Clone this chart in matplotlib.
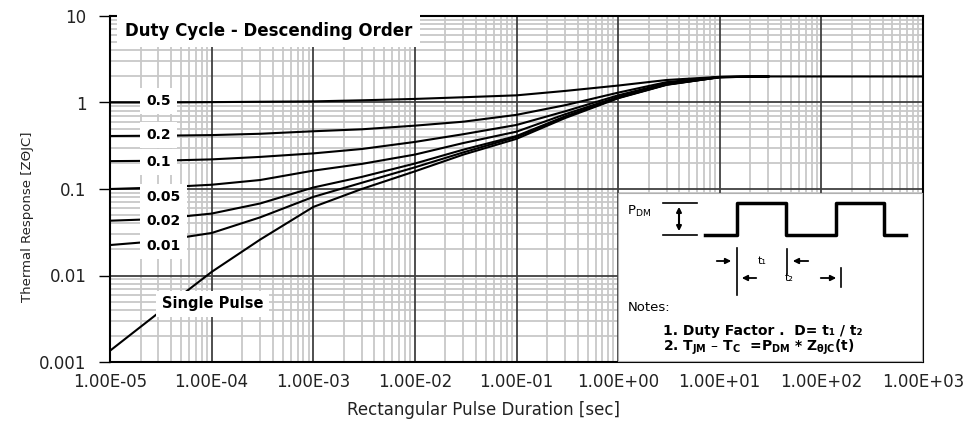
import matplotlib
matplotlib.use("Agg")
import matplotlib.pyplot as plt
from matplotlib.ticker import LogLocator, FuncFormatter, NullFormatter
import numpy as np

plt.rcParams['font.family'] = ['DejaVu Sans']

# pulse duration [s] and thermal response
t = [1e-5, 3e-5, 1e-4, 3e-4, 1e-3, 3e-3, 1e-2, 3e-2, 1e-1, 3e-1, 1, 3, 10, 30]
t_single = t + [100, 1000]

z_d50 = [1.0, 1.0, 1.01, 1.02, 1.03, 1.06, 1.10, 1.15, 1.21, 1.36, 1.57, 1.82, 1.98, 2.0]
z_d20 = [0.41, 0.413, 0.42, 0.435, 0.465, 0.49, 0.54, 0.60, 0.72, 0.93, 1.30, 1.72, 1.97, 2.0]
z_d10 = [0.21, 0.212, 0.22, 0.235, 0.258, 0.29, 0.35, 0.43, 0.55, 0.79, 1.21, 1.67, 1.97, 2.0]
z_d05 = [0.10, 0.104, 0.112, 0.127, 0.163, 0.195, 0.25, 0.34, 0.46, 0.73, 1.16, 1.64, 1.97, 2.0]
z_d02 = [0.043, 0.045, 0.052, 0.068, 0.104, 0.138, 0.197, 0.285, 0.41, 0.69, 1.14, 1.62, 1.96, 2.0]
z_d01 = [0.0225, 0.025, 0.031, 0.047, 0.081, 0.118, 0.178, 0.265, 0.40, 0.68, 1.13, 1.61, 1.96, 2.0]
z_single = [0.00135, 0.0037, 0.011, 0.026, 0.062, 0.10, 0.16, 0.25, 0.38, 0.66, 1.12, 1.60, 1.96, 2.0, 2.0, 2.0]

duty_labels = ["0.5", "0.2", "0.1", "0.05", "0.02", "0.01"]
label_y = [0.754, 0.656, 0.578, 0.477, 0.408, 0.335]

fig = plt.figure(figsize=(9.77, 4.23), dpi=100)
ax = fig.add_axes([110/977, 1-362/423, 813/977, 346/423])

for z in [z_d50, z_d20, z_d10, z_d05, z_d02, z_d01]:
    ax.plot(t, z, color='black', lw=1.5, zorder=3)
ax.plot(t_single, z_single, color='black', lw=1.5, zorder=3)

ax.set_xscale('log')
ax.set_yscale('log')
ax.set_xlim(1e-5, 1e3)
ax.set_ylim(1e-3, 10)

for a in (ax.xaxis, ax.yaxis):
    a.set_major_locator(LogLocator(base=10, numticks=20))
    a.set_minor_locator(LogLocator(base=10, subs=np.arange(2, 10), numticks=20))
    a.set_minor_formatter(NullFormatter())
ax.xaxis.set_major_formatter(FuncFormatter(lambda v, p: f"{v:.2E}"))
ax.yaxis.set_major_formatter(FuncFormatter(lambda v, p: f"{v:g}"))

# light minor grid, dark decade lines drawn on top of it
ax.grid(which='minor', color='#c8c8c8', lw=1.3)
ax.set_axisbelow(True)
for v in ax.get_xticks():
    if 1e-5 < v < 1e3:
        ax.axvline(v, color='#404040', lw=1.3, zorder=1)
for v in ax.get_yticks():
    if 1e-3 < v < 10:
        ax.axhline(v, color='#404040', lw=1.3, zorder=1)

for s in ax.spines.values():
    s.set_color('black')
    s.set_linewidth(1.5)

ax.tick_params(axis='x', which='both', length=0, pad=8, labelsize=12, labelcolor='#222222')
ax.tick_params(axis='y', which='major', length=8, width=1, pad=9, labelsize=12, labelcolor='#222222')
ax.tick_params(axis='y', which='minor', length=0)

ax.set_xlabel('Rectangular Pulse Duration [sec]', fontsize=12, color='#222222')
ax.set_ylabel('Thermal Response [ZΘJC]', fontsize=9.5, color='#222222')
ax.xaxis.set_label_coords(0.46, -0.113)
ax.yaxis.set_label_coords(-0.094, 0.419)

# curve labels
box = dict(boxstyle='square,pad=0.45', fc='white', ec='none')
for lab, y in zip(duty_labels, label_y):
    ax.text(0.045, y, lab, transform=ax.transAxes, fontsize=10, fontweight='bold',
            ha='left', va='center', bbox=box, zorder=4)
ax.text(0.064, 0.168, 'Single Pulse', transform=ax.transAxes, fontsize=10.5,
        fontweight='bold', ha='left', va='center',
        bbox=dict(boxstyle='square,pad=0.4', fc='white', ec='none'), zorder=4)
ax.text(0.018, 0.957, 'Duty Cycle - Descending Order', transform=ax.transAxes,
        fontsize=12, fontweight='bold', ha='left', va='center',
        bbox=dict(boxstyle='square,pad=0.45', fc='white', ec='none'), zorder=4)

# inset with pulse diagram and notes (coords in pixels of the figure)
ins = fig.add_axes([618/977, 1-360.5/423, (922-618)/977, (360.5-193)/423])
ins.set_xlim(618, 922)
ins.set_ylim(360.5, 193)
ins.set_xticks([])
ins.set_yticks([])
for s in ins.spines.values():
    s.set_color('#b0b0b0')
    s.set_linewidth(0.8)

wave_x = [705, 737, 737, 786, 786, 836, 836, 884, 884, 906]
wave_y = [235, 235, 203, 203, 235, 235, 203, 203, 235, 235]
ins.plot(wave_x, wave_y, color='black', lw=2.5)

ins.plot([663, 697], [203, 203], color='black', lw=1.2)
ins.plot([663, 697], [235, 235], color='black', lw=1.2)
ins.annotate('', xy=(679, 204), xytext=(679, 234),
             arrowprops=dict(arrowstyle='<|-|>', color='black', lw=1.5, mutation_scale=7))
ins.text(627, 211, r'P$_{\mathregular{DM}}$', fontsize=9.5, ha='left', va='center')

arrow = dict(arrowstyle='-|>', color='black', lw=1.3, mutation_scale=8)
ins.plot([737, 737], [248, 295], color='black', lw=1.2)
ins.plot([787, 787], [249, 274], color='black', lw=1.2)
ins.plot([841, 841], [268, 287], color='black', lw=1.2)
ins.annotate('', xy=(734, 261), xytext=(714, 261), arrowprops=arrow)
ins.annotate('', xy=(790, 261), xytext=(811, 261), arrowprops=arrow)
ins.annotate('', xy=(739, 278), xytext=(759, 278), arrowprops=arrow)
ins.annotate('', xy=(839, 278), xytext=(818, 278), arrowprops=arrow)
ins.text(762, 261, 't₁', fontsize=8, ha='center', va='center')
ins.text(789, 278, 't₂', fontsize=8, ha='center', va='center')

ins.text(628, 308, 'Notes:', fontsize=9.5, ha='left', va='center')
ins.text(663, 331, '1. Duty Factor .  D= t₁ / t₂', fontsize=10, fontweight='bold',
         ha='left', va='center')
ins.text(663, 347, r'2. T$_{\mathbf{JM}}$ – T$_{\mathbf{C}}$  =P$_{\mathbf{DM}}$ * Z$_{\mathbf{θJC}}$(t)',
         fontsize=10, fontweight='bold', ha='left', va='center')

fig.savefig('out.png', dpi=100)
